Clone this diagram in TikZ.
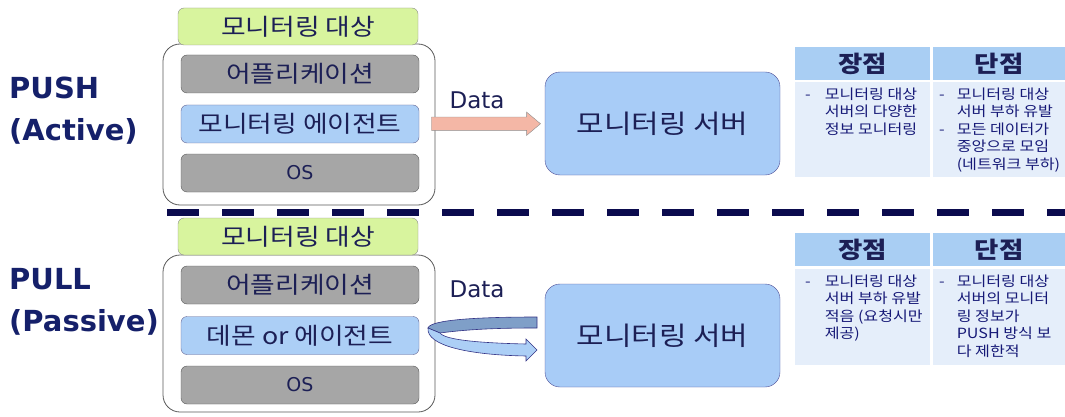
\documentclass[tikz,border=0pt]{standalone}
\usepackage{fontspec}
\setmainfont[FakeStretch=1.15]{Noto Sans CJK KR}
\newfontfamily\latinfont{DejaVu Sans}
\usetikzlibrary{positioning, shapes.arrows, calc}

\definecolor{labelnavy}{HTML}{15206A}
\definecolor{textnavy}{HTML}{1C1F55}
\definecolor{dashnavy}{HTML}{0B0B4E}
\definecolor{targetgreen}{HTML}{D8F49E}
\definecolor{layergray}{HTML}{A6A6A6}
\definecolor{layerblue}{HTML}{ACCFF6}
\definecolor{serverblue}{HTML}{A8CCF7}
\definecolor{headblue}{HTML}{A9CEF3}
\definecolor{bodyblue}{HTML}{E5EEFA}
\definecolor{arrowpink}{HTML}{F4B7A6}
\definecolor{ribbonback}{HTML}{7F9FC8}

\tikzset{
  modelabel/.style={font=\latinfont\bfseries\fontsize{29}{42}\selectfont, text=labelnavy, align=left, inner sep=0pt, anchor=west},
  holder/.style={draw=black!65, rounded corners=17pt, fill=white, line width=0.8pt, minimum width=272pt, inner sep=0pt},
  targetbox/.style={draw=black!45, fill=targetgreen, rounded corners=6pt, minimum width=240pt, minimum height=37pt, inner sep=0pt, font=\fontsize{23.3}{25}\selectfont, text=textnavy},
  graylayer/.style={draw=black!65, fill=layergray, rounded corners=6pt, minimum width=238pt, minimum height=38pt, inner sep=0pt, font=\fontsize{23.3}{25}\selectfont, text=textnavy},
  bluelayer/.style={graylayer, draw=blue!30!black!60, fill=layerblue},
  serverbox/.style={draw=blue!40!black!70, fill=serverblue, rounded corners=15pt, minimum width=235pt, minimum height=103pt, inner sep=0pt, font=\fontsize{26}{28}\selectfont, text=textnavy},
  datalabel/.style={font=\latinfont\fontsize{23}{25}\selectfont, text=textnavy, inner sep=0pt},
  pusharrowstyle/.style={single arrow, draw=black!45, fill=arrowpink, minimum height=109pt, inner sep=6.5pt, single arrow head extend=5pt, single arrow tip angle=80},
  divider/.style={draw=dashnavy, line width=7pt, dash pattern=on 32pt off 23pt},
  headcell/.style={fill=headblue, minimum height=33pt, inner sep=0pt, font=\bfseries\fontsize{23}{25}\selectfont, text=textnavy},
  bodycell/.style={fill=bodyblue, inner sep=0pt},
  celltext/.style={anchor=north west, inner sep=0pt, font=\fontsize{14}{17.5}\selectfont, text=textnavy!80!blue},
}

\begin{document}
\begin{tikzpicture}[x=1pt, y=-1pt]
  \useasboundingbox (0,0) rectangle (1065,417);

  % push side
  \node[modelabel] (pushlbl) at (9,111) {PUSH\\(Active)};
  \node[holder, minimum height=161pt] (pushholder) at (299,124.5) {};
  \node[targetbox] (pushtarget) at (298,26.5) {모니터링 대상};
  \node[graylayer] (pushapp) at (300,74) {어플리케이션};
  \node[bluelayer] (pushagent) at (300,124) {모니터링 에이전트};
  \node[graylayer] (pushos) at (300,173) {\latinfont\fontsize{19}{21}\selectfont OS};
  \node[serverbox] (pushserver) at (662.5,123.5) {모니터링 서버};
  \node[datalabel] (pushdata) at (477,100) {Data};
  \node[pusharrowstyle] (pusharrow) at ($(pushagent.east)!0.5!(pushserver.west)$) {};

  % pros and cons, push
  \node[headcell, minimum width=135pt] (pushprohead) at (862.5,63.5) {장점};
  \node[headcell, minimum width=132pt] (pushconhead) at (999,63.5) {단점};
  \node[bodycell, minimum width=135pt, minimum height=95pt] (pushprobody) at (862.5,129.5) {};
  \node[bodycell, minimum width=132pt, minimum height=95pt] (pushconbody) at (999,129.5) {};
  \node[celltext] (pushprotext) at (805,87) {\begin{tabular}{@{}l@{\hspace{14pt}}l@{}}
    - & 모니터링 대상\\ & 서버의 다양한\\ & 정보 모니터링 \end{tabular}};
  \node[celltext] (pushcontext) at (939,87) {\begin{tabular}{@{}l@{\hspace{12pt}}l@{}}
    - & 모니터링 대상\\ & 서버 부하 유발\\ - & 모든 데이터가\\ & 중앙으로 모임\\ & (네트워크 부하) \end{tabular}};

  \draw[divider] (167,212) -- (1065,212);

  % pull side
  \node[modelabel] (pulllbl) at (9,302) {PULL\\(Passive)};
  \node[holder, minimum height=157pt] (pullholder) at (299,333.5) {};
  \node[targetbox] (pulltarget) at (298,236.5) {모니터링 대상};
  \node[graylayer] (pullapp) at (300,285) {어플리케이션};
  \node[bluelayer] (pulldaemon) at (300,335.5) {데몬 or 에이전트};
  \node[graylayer] (pullos) at (300,385) {\latinfont\fontsize{19}{21}\selectfont OS};
  \node[serverbox] (pullserver) at (662.5,335.5) {모니터링 서버};
  \node[datalabel] (pulldata) at (477,289) {Data};

  % request goes out and the data comes back
  \filldraw[draw=blue!40!black!80, fill=ribbonback, line width=0.6pt]
    (537,317) .. controls (475,317) and (430,320) .. (428,328) -- (440,333)
    .. controls (470,329) and (500,328) .. (537,328) -- cycle;
  \filldraw[draw=blue!40!black!80, fill=layerblue, line width=0.6pt]
    (428,328) .. controls (426,346) and (470,355) .. (526,356) -- (526,361) -- (537,350)
    -- (526,339) -- (526,344) .. controls (480,343) and (445,340) .. (440,333) -- cycle;

  % pros and cons, pull
  \node[headcell, minimum width=135pt] (pullprohead) at (862.5,249.5) {장점};
  \node[headcell, minimum width=132pt] (pullconhead) at (999,249.5) {단점};
  \node[bodycell, minimum width=135pt, minimum height=96pt] (pullprobody) at (862.5,317) {};
  \node[bodycell, minimum width=132pt, minimum height=96pt] (pullconbody) at (999,317) {};
  \node[celltext] (pullprotext) at (805,274) {\begin{tabular}{@{}l@{\hspace{14pt}}l@{}}
    - & 모니터링 대상\\ & 서버 부하 유발\\ & 적음 (요청시만\\ & 제공) \end{tabular}};
  \node[celltext] (pullcontext) at (939,274) {\begin{tabular}{@{}l@{\hspace{12pt}}l@{}}
    - & 모니터링 대상\\ & 서버의 모니터\\ & 링 정보가\\ & PUSH 방식 보\\ & 다 제한적 \end{tabular}};
\end{tikzpicture}
\end{document}
